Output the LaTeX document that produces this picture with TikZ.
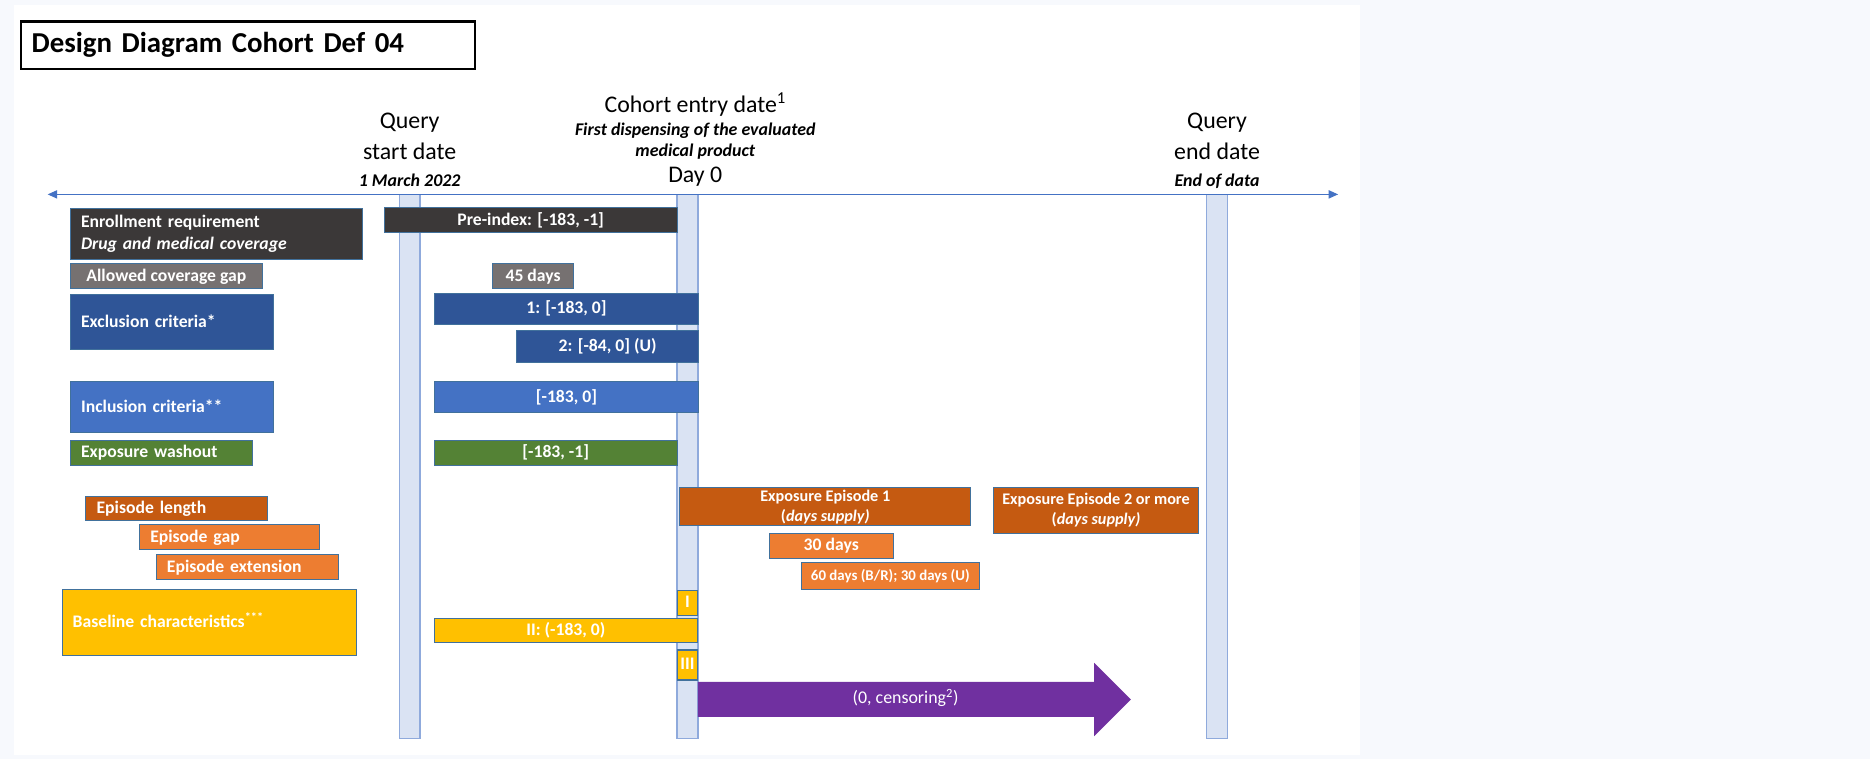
\documentclass[tikz,border=0pt]{standalone}
\usepackage{fontspec}
\setmainfont{Carlito}
\usetikzlibrary{arrows.meta,shapes.arrows}
\definecolor{bgpage}{HTML}{F7F9FD}
\definecolor{edge}{HTML}{41719C}
\definecolor{axisblue}{HTML}{4472C4}
\definecolor{barfill}{HTML}{DAE3F3}
\definecolor{baredge}{HTML}{8FAADC}
\definecolor{cDark}{HTML}{3B3838}
\definecolor{cGrey}{HTML}{767171}
\definecolor{cExcl}{HTML}{2F5597}
\definecolor{cIncl}{HTML}{4472C4}
\definecolor{cWash}{HTML}{548235}
\definecolor{cEpi}{HTML}{C55A11}
\definecolor{cGap}{HTML}{ED7D31}
\definecolor{cBase}{HTML}{FFC000}
\definecolor{cFollow}{HTML}{7030A0}
\newcommand{\subfnt}{\bfseries\itshape\fontsize{15}{18}\selectfont}

\begin{document}
\begin{tikzpicture}[x=1pt,y=-1pt,>={Triangle[length=8pt,width=7pt]},
box/.style={draw=edge,line width=0.8pt,inner sep=0pt,text=white,align=center,font=\bfseries\fontsize{14.8}{18.5}\selectfont},
one/.style={text height=11pt,text depth=2.5pt},
lbl/.style={box,align=left,inner xsep=9pt},
tbar/.style={draw=baredge,fill=barfill,line width=1.2pt,inner sep=0pt,minimum width=17.5pt,minimum height=456pt},
head/.style={align=center,anchor=base,font=\fontsize{20}{23}\selectfont},
axis/.style={<->,draw=axisblue,line width=0.9pt}]
\useasboundingbox (0,0) rectangle (1568,636);
\fill[bgpage] (0,0) rectangle (1568,636);
\fill[white] (12,4) rectangle (1140,633);
% title
\node[draw=black,line width=1.8pt,align=left,text width=363pt,inner xsep=9pt,inner ysep=0pt,minimum height=40pt,font=\bfseries\fontsize{24.2}{29}\selectfont] (title) at (208,38) {Design Diagram Cohort Def 04};
% time line and the three dates
\node[tbar] (qs) at (343.5,391) {};
\node[tbar] (entry) at (576.5,391) {};
\node[tbar] (qe) at (1020.5,391) {};
\coordinate (axL) at (40,163);
\coordinate (axR) at (1122,163);
\draw[axis] (axL) -- (axR);
\node[head] (qsl) at (343.5,156) {Query\\[3pt]start date\\[-1pt]{\subfnt 1 March 2022}};
\node[head] (entl) at (583,153) {Cohort entry date\textsuperscript{1}\\[-3pt]{\subfnt First dispensing of the evaluated}\\[-6pt]{\subfnt medical product}\\[-1pt]Day 0};
\node[head] (qel) at (1020.5,156) {Query\\[3pt]end date\\[-1pt]{\subfnt End of data}};
% legend on the left
\node[lbl,fill=cDark,text width=227pt,minimum height=42.5pt] (enrol) at (181.5,196) {Enrollment requirement\\\textit{Drug and medical coverage}};
\node[box,one,fill=cGrey,minimum width=161pt,minimum height=21pt] (gap) at (139.5,231.5) {Allowed coverage gap};
\node[lbl,one,fill=cExcl,text width=152pt,minimum height=46pt] (excl) at (144,270) {Exclusion criteria*};
\node[lbl,one,fill=cIncl,text width=152pt,minimum height=43pt] (incl) at (144,341.5) {Inclusion criteria**};
\node[lbl,one,fill=cWash,text width=135pt,minimum height=21pt] (wash) at (135.5,379.5) {Exposure washout};
\node[lbl,one,fill=cEpi,text width=134.5pt,minimum height=20pt] (eplen) at (148.25,426) {Episode length};
\node[lbl,one,fill=cGap,text width=133pt,minimum height=21pt] (epgap) at (192.5,450.5) {Episode gap};
\node[lbl,one,fill=cGap,text width=135pt,minimum height=21pt] (epext) at (207.5,475.5) {Episode extension};
\node[lbl,one,fill=cBase,text width=229pt,minimum height=56pt] (base) at (175.5,522) {Baseline characteristics\textsuperscript{***}};
% windows
\node[box,one,fill=cDark,minimum width=246pt,minimum height=21pt] (pre) at (445,184.5) {Pre-index: [-183, -1]};
\node[box,one,fill=cGrey,minimum width=68pt,minimum height=21pt] (d45) at (447,231.5) {45 days};
\node[box,one,fill=cExcl,minimum width=222pt,minimum height=26pt] (ex1) at (475,259) {1: [-183, 0]};
\node[box,one,fill=cExcl,minimum width=153pt,minimum height=27pt] (ex2) at (509.5,290.5) {2: [-84, 0] (U)};
\node[box,one,fill=cIncl,minimum width=222pt,minimum height=26pt] (in1) at (475,333) {[-183, 0]};
\node[box,one,fill=cWash,minimum width=204pt,minimum height=21pt] (wo) at (466,379.5) {[-183, -1]};
\node[box,fill=cEpi,font=\bfseries\fontsize{13.6}{17}\selectfont,minimum width=244pt,minimum height=32pt] (ep1) at (692,425) {Exposure Episode 1\\(\textit{days supply)}};
\node[box,fill=cEpi,font=\bfseries\fontsize{13.6}{17}\selectfont,minimum width=172pt,minimum height=38pt] (ep2) at (919,428) {Exposure Episode 2 or more\\(\textit{days supply)}};
\node[box,one,fill=cGap,minimum width=104pt,minimum height=21pt] (d30) at (697,457.5) {30 days};
\node[box,fill=cGap,font=\bfseries\fontsize{12.5}{15}\selectfont,text height=9pt,text depth=2.2pt,minimum width=149pt,minimum height=22pt] (d60) at (746.5,483) {60 days (B/R); 30 days (U)};
\node[box,one,fill=cBase,line width=1.2pt,minimum width=17pt,minimum height=21pt] (bI) at (576.5,505.5) {I};
\node[box,one,fill=cBase,minimum width=221pt,minimum height=20pt] (bII) at (474.5,529) {II: (-183, 0)};
\node[box,one,fill=cBase,line width=1.2pt,minimum width=17pt,minimum height=25pt] (bIII) at (576.5,557.5) {III};
% follow-up
\node[single arrow,fill=cFollow,text=white,font=\fontsize{15}{18}\selectfont,text height=10.5pt,text depth=3.5pt,inner xsep=0pt,inner ysep=7.5pt,minimum height=363pt,minimum width=61pt,single arrow head extend=16pt,anchor=tail] (fup) at (585,586.5) {(0, censoring\textsuperscript{2})};
\end{tikzpicture}
\end{document}
